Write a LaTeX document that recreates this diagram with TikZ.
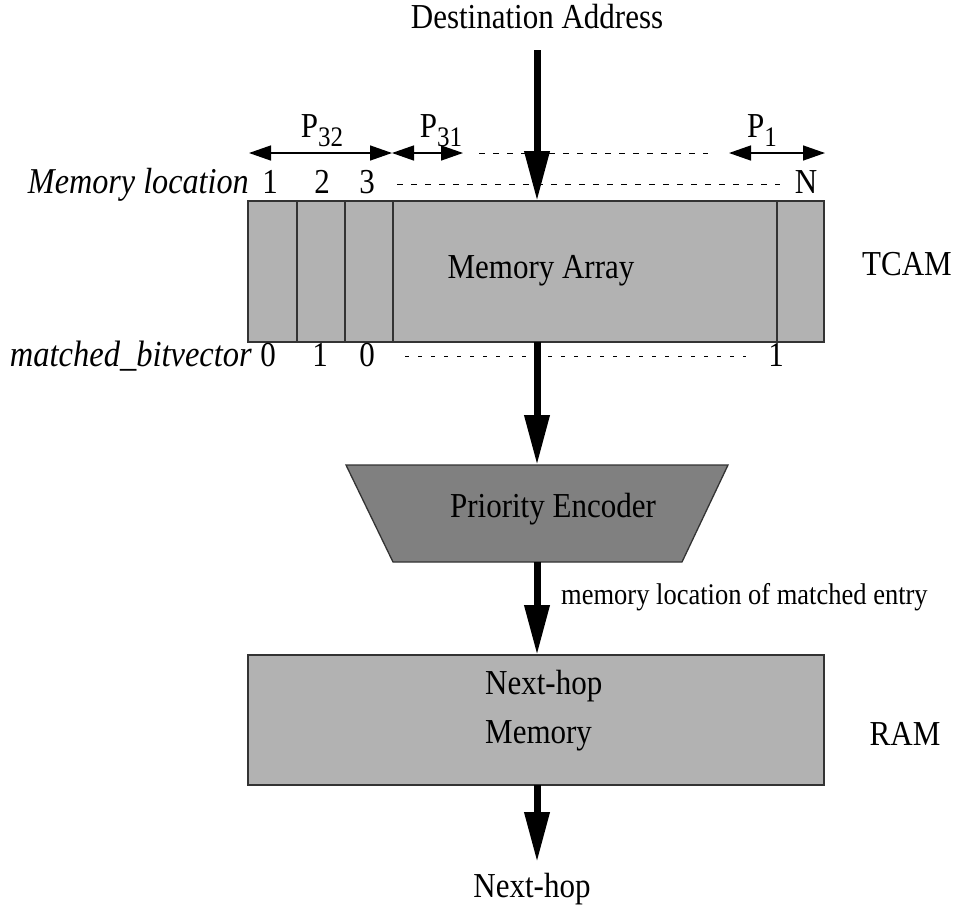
\documentclass[tikz,border=0pt]{standalone}
\usepackage{fontspec}
\usepackage{graphicx}
\setmainfont{Liberation Serif}
\usetikzlibrary{arrows.meta}

\definecolor{boxgray}{gray}{0.70}
\definecolor{encgray}{gray}{0.50}
\definecolor{edgegray}{gray}{0.20}

% Times-like text, set a little taller than wide
\newcommand\tall[1]{\scalebox{1}[1.13]{#1}}
\newcommand\psub[1]{P\raisebox{-0.28em}{\fontsize{25}{30}\selectfont #1}}

\tikzset{
  x=1pt, y=-1pt,
  bigfont/.style={font=\fontsize{31}{36}\selectfont},
  smallfont/.style={font=\fontsize{26.5}{30}\selectfont},
  block/.style={draw=edgegray, line width=1.3pt, fill=boxgray},
  flow/.style={line width=7pt, -{Triangle[length=50pt,width=24pt]}},
  span/.style={line width=1.4pt, {Triangle[length=22pt,width=15pt]}-{Triangle[length=22pt,width=15pt]}},
  dashrow/.style={line width=1pt, dash pattern=on 6pt off 8pt},
  dotrow/.style={line width=1pt, dash pattern=on 4pt off 9pt},
  lbl/.style={bigfont, inner sep=0pt, anchor=base},
}

\begin{document}
\begin{tikzpicture}
\useasboundingbox (0,0) rectangle (956,911);

% TCAM memory array with its entry columns
\draw[block] (248,201) rectangle (824,342);
\foreach \xx in {297,345,393,777} \draw[edgegray, line width=1.3pt] (\xx,201) -- (\xx,342);
\node[lbl] (arr) at (541,278) {\tall{Memory Array}};
\node[lbl] (tcam) at (907,275) {\tall{TCAM}};
\coordinate (tcamtop) at (537,201);
\coordinate (tcambot) at (537,342);

% incoming key
\node[lbl] (dst) at (537,28) {\tall{Destination Address}};
\coordinate (dstfoot) at (537,50);

% prefix groups above the array
\coordinate (p32l) at (249,153);
\coordinate (p32r) at (392,153);
\coordinate (p31r) at (463,153);
\coordinate (p1l) at (729,153);
\coordinate (p1r) at (825,153);
\coordinate (gapl) at (479,153);
\coordinate (gapr) at (708,153);
\draw[span] (p32l) -- (p32r);
\draw[span] (p32r) -- (p31r);
\draw[span] (p1l) -- (p1r);
\draw[dashrow] (gapl) -- (gapr);
\node[lbl] (p32) at (322,137) {\tall{\psub{32}}};
\node[lbl] (p31) at (441,137) {\tall{\psub{31}}};
\node[lbl] (p1) at (762,137) {\tall{\psub{1}}};

% memory location indices
\node[lbl, anchor=base east, font=\fontsize{32.2}{36}\selectfont] (memloc) at (249,193) {\tall{\itshape Memory location}};
\node[lbl] (m1) at (270,193) {\tall{1}};
\node[lbl] (m2) at (322,193) {\tall{2}};
\node[lbl] (m3) at (367,193) {\tall{3}};
\node[lbl] (mN) at (806,193) {\tall{N}};
\coordinate (mdl) at (397,184);
\coordinate (mdr) at (780,184);
\draw[dashrow] (mdl) -- (mdr);

% match vector below the array
\node[lbl, anchor=base east, font=\fontsize{32.5}{36}\selectfont] (mbv) at (252,366) {\tall{\itshape matched\_bitvector}};
\node[lbl] (b1) at (268,366) {\tall{0}};
\node[lbl] (b2) at (320,366) {\tall{1}};
\node[lbl] (b3) at (367,366) {\tall{0}};
\node[lbl] (bN) at (776,366) {\tall{1}};
\coordinate (bdl) at (405,356);
\coordinate (bdr) at (746,356);
\draw[dotrow] (bdl) -- (bdr);

% priority encoder
\draw[draw=edgegray, line width=1.3pt, fill=encgray] (346,465) -- (728,465) -- (682,562) -- (393,562) -- cycle;
\coordinate (enctop) at (537,465);
\coordinate (encbot) at (537,562);
\node[lbl] (enc) at (553,517) {\tall{Priority Encoder}};

% next-hop RAM
\draw[block] (248,655) rectangle (824,785);
\coordinate (ramtop) at (537,655);
\coordinate (rambot) at (537,785);
\node[lbl, anchor=base west] (nh1) at (485,694) {\tall{Next-hop}};
\node[lbl, anchor=base west] (nh2) at (485,743) {\tall{Memory}};
\node[lbl] (ram) at (905,745) {\tall{RAM}};

% result
\node[lbl] (out) at (532,897) {\tall{Next-hop}};
\coordinate (outtop) at (537,862);

% data flow
\draw[flow] (dstfoot) -- (tcamtop);
\draw[flow] (tcambot) -- (enctop);
\draw[flow] (encbot) -- (ramtop);
\draw[flow] (rambot) -- (outtop);
\node[smallfont, anchor=base west, inner sep=0pt] (loclbl) at (561,604) {\tall{memory location of matched entry}};
\end{tikzpicture}
\end{document}
